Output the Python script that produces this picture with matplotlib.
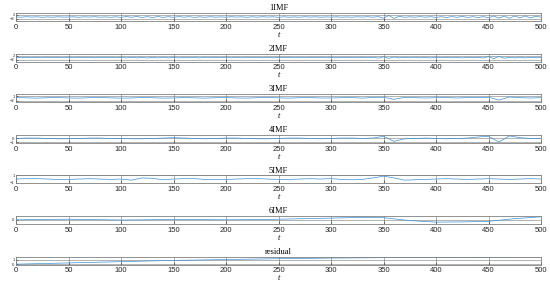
import numpy as np
import matplotlib.pyplot as plt

titles = ['1IMF', '2IMF', '3IMF', '4IMF', '5IMF', '6IMF', 'residual']

x1 = np.arange(0, 501, 5)
imf1 = [0.1, -0.2, 0.3, -0.1, 0.2, -0.3, 0.1, -0.2, 0.2, -0.1,
        0.0, 0.2, -0.3, 0.2, -0.1, 0.3, -0.2, 0.1, -0.3, 0.2,
        -0.4, 0.5, -0.3, 0.6, -0.5, 0.4, -0.6, 0.5, -0.4, 0.3,
        -0.3, 0.4, -0.2, 0.3, -0.4, 0.2, -0.3, 0.3, -0.2, 0.1,
        -0.2, 0.3, -0.1, 0.2, -0.3, 0.2, -0.2, 0.3, -0.1, 0.2,
        -0.3, 0.2, -0.2, 0.1, -0.2, 0.3, -0.1, 0.2, -0.2, 0.1,
        -0.1, 0.2, -0.2, 0.1, -0.2, 0.2, -0.1, 0.3, -0.2, 0.4,
        -1.2, 1.5, -1.4, 0.8, -0.3, 0.2, -0.2, 0.3, -0.2, 0.3,
        -0.4, 0.3, -0.5, 0.4, -0.3, 0.5, -0.4, 0.3, -0.5, 0.4,
        -0.8, 1.0, -1.1, 0.9, -1.2, 1.0, -0.9, 1.1, -1.0, 0.8,
        -0.2]

x2 = np.arange(0, 501, 5)
imf2 = [0.2, -0.1, 0.2, -0.2, 0.1, -0.2, 0.2, -0.1, 0.2, -0.2,
        0.1, -0.2, 0.2, -0.1, 0.2, -0.2, 0.1, -0.1, 0.2, -0.2,
        0.3, -0.3, 0.4, -0.3, 0.3, -0.4, 0.3, -0.3, 0.4, -0.3,
        0.2, -0.3, 0.3, -0.2, 0.2, -0.3, 0.2, -0.2, 0.3, -0.2,
        0.2, -0.2, 0.1, -0.2, 0.2, -0.1, 0.2, -0.2, 0.1, -0.2,
        0.2, -0.1, 0.2, -0.2, 0.1, -0.2, 0.2, -0.1, 0.2, -0.2,
        0.1, -0.2, 0.2, -0.1, 0.2, -0.2, 0.3, -0.2, 0.4, -0.5,
        0.8, -0.7, 0.6, -0.3, 0.2, -0.2, 0.3, -0.2, 0.2, -0.3,
        0.2, -0.2, 0.3, -0.2, 0.2, -0.3, 0.3, -0.2, 0.3, -0.4,
        0.9, -1.0, 1.1, -0.6, 0.3, -0.3, 0.4, -0.3, 0.3, -0.2,
        0.1]

x3 = np.arange(0, 501, 10)
imf3 = [0.2, 0.0, -0.2, 0.1, 0.2, -0.1, -0.2, 0.1, 0.2, 0.0,
        -0.2, -0.1, 0.2, 0.1, -0.2, -0.1, 0.2, 0.0, -0.2, 0.1,
        0.2, -0.1, -0.2, 0.1, 0.2, 0.0, -0.2, 0.1, 0.2, -0.1,
        -0.1, 0.1, 0.2, -0.2, 0.3, 0.4, -1.0, 0.3, 0.1, -0.1,
        0.1, 0.2, -0.1, 0.2, 0.1, 0.4, -1.5, 0.6, 0.1, -0.1,
        0.1]

x4 = np.arange(0, 501, 10)
imf4 = [0.0, 0.1, 0.1, 0.0, -0.1, -0.1, 0.0, 0.1, 0.1, 0.0,
        0.0, -0.1, -0.1, 0.0, 0.1, 0.2, 0.1, 0.0, -0.1, 0.0,
        0.1, 0.1, 0.0, -0.1, -0.1, 0.0, 0.1, 0.1, 0.0, -0.1,
        0.0, 0.1, 0.1, 0.0, 0.1, 0.6, -0.8, -0.1, 0.0, 0.1,
        0.0, -0.1, 0.0, 0.1, 0.4, 0.6, -1.0, 0.7, 0.2, 0.0,
        0.0]

x5 = np.arange(0, 501, 10)
imf5 = [0.0, 0.1, 0.1, 0.0, -0.1, -0.1, 0.0, 0.1, 0.0, -0.1,
        0.0, -0.3, 0.3, 0.2, -0.2, 0.0, 0.1, 0.1, -0.1, -0.1,
        -0.1, 0.0, 0.1, 0.1, 0.0, -0.1, -0.1, 0.0, 0.1, 0.0,
        0.1, -0.1, -0.2, -0.1, 0.3, 0.8, 0.3, -0.3, -0.2, -0.1,
        0.0, 0.1, 0.0, -0.1, 0.0, 0.1, 0.0, -0.1, 0.0, 0.1,
        0.0]

x6 = np.arange(0, 501, 25)
imf6 = [0.0, 0.1, 0.15, 0.05, -0.05, 0.0, 0.1, 0.05, 0.0, 0.05,
        0.15, 0.3, 0.45, 0.6, 0.55, -0.2, -0.6, -0.55, -0.4, 0.3,
        0.8]

x7 = np.arange(0, 501, 50)
res = [0.0, 0.3, 0.6, 0.9, 1.1, 1.3, 1.45, 1.55, 1.62, 1.66, 1.68]

series = [(x1, imf1), (x2, imf2), (x3, imf3), (x4, imf4),
          (x5, imf5), (x6, imf6), (x7, res)]
ylims = [(-4, 4), (-4, 4), (-3, 2.5), (-1.2, 1.0),
         (-1.2, 1.0), (-1.1, 1.0), (-0.1, 1.8)]
yticks = [[-2, 2], [-2, 2], [-2, 1], [-1, 0],
          [-1, 1], [0], [0, 1]]

fig = plt.figure(figsize=(5.5, 2.84), dpi=100)
W, H = 550, 284
for i in range(7):
    top = 13 + 40.6 * i
    h = 8
    ax = fig.add_axes([16 / W, 1 - (top + h) / H, 525 / W, h / H])
    xs, ys = series[i]
    ax.plot(xs, ys, color='#3a8fd6', lw=0.5)
    ax.set_xlim(0, 500)
    ax.set_ylim(*ylims[i])
    ax.set_xticks(np.arange(0, 501, 50))
    ax.set_yticks(yticks[i])
    ax.grid(True, color='#4d4d4d', lw=0.5, alpha=0.6)
    ax.tick_params(axis='x', labelsize=5.5, length=2, width=0.4, pad=2,
                   colors='#262626', direction='in')
    ax.tick_params(axis='y', labelsize=3, length=1.5, width=0.4, pad=1,
                   colors='#262626', direction='in')
    for lab in ax.get_xticklabels() + ax.get_yticklabels():
        lab.set_fontfamily('Liberation Sans')
    for sp in ax.spines.values():
        sp.set_color('#808080')
        sp.set_linewidth(0.6)
    ax.set_title(titles[i], fontsize=6, family='Liberation Serif', pad=2)
    ax.set_xlabel('t', fontsize=6, family='Liberation Serif',
                  style='italic', labelpad=0)

fig.savefig('out.png', dpi=100)
